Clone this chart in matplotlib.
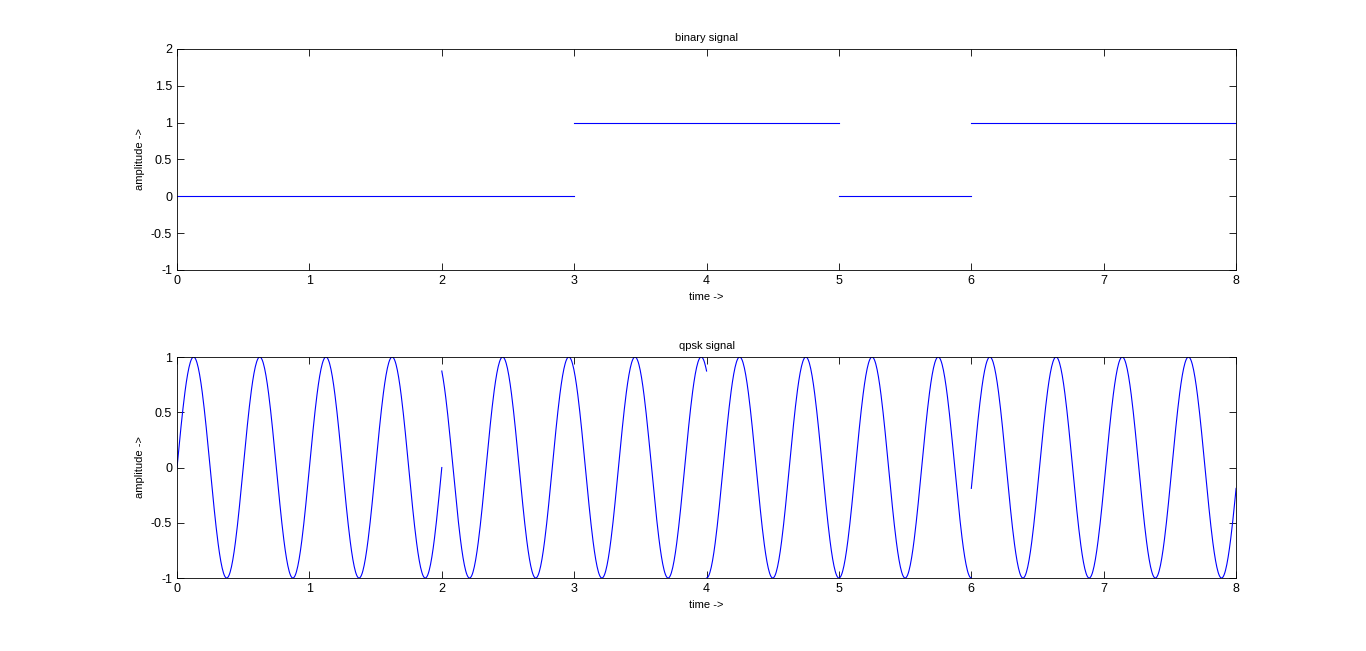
import matplotlib
matplotlib.use('Agg')
import matplotlib.pyplot as plt
import numpy as np

plt.rcParams['font.family'] = ['Liberation Sans', 'DejaVu Sans']
plt.rcParams['font.size'] = 8

# binary data, one bit per time unit
bits = [0, 0, 0, 1, 1, 0, 1, 1]
# qpsk: one symbol per two time units, phase of the carrier (rad)
sym_phases = [0.0, 2.08, -1.57, -0.19]
carrier_freq = 2.0  # cycles per time unit

fig = plt.figure(figsize=(13.66, 6.51), dpi=100)
ax1 = fig.add_axes([0.1296, 0.5853, 0.7753, 0.3395])
ax2 = fig.add_axes([0.1296, 0.1121, 0.7753, 0.3395])

# binary signal, runs of equal bits drawn as one piece
start = 0
for i in range(1, len(bits) + 1):
    if i == len(bits) or bits[i] != bits[start]:
        ax1.plot([start, i], [bits[start], bits[start]], color='blue', linewidth=0.8)
        start = i
ax1.set_xlim(0, 8)
ax1.set_ylim(-1, 2)
ax1.set_yticks([-1, -0.5, 0, 0.5, 1, 1.5, 2])
ax1.set_yticklabels(['-1', '-0.5', '0', '0.5', '1', '1.5', '2'])
ax1.set_title('binary signal', fontsize=8)
ax1.set_xlabel('time ->')
ax1.set_ylabel('amplitude ->')

for k, ph in enumerate(sym_phases):
    t = np.linspace(2 * k, 2 * k + 2, 400)
    ax2.plot(t, np.sin(2 * np.pi * carrier_freq * t + ph), color='blue', linewidth=0.8)
ax2.set_xlim(0, 8)
ax2.set_ylim(-1, 1)
ax2.set_yticks([-1, -0.5, 0, 0.5, 1])
ax2.set_yticklabels(['-1', '-0.5', '0', '0.5', '1'])
ax2.set_title('qpsk signal', fontsize=8)
ax2.set_xlabel('time ->')
ax2.set_ylabel('amplitude ->')

for ax in (ax1, ax2):
    ax.tick_params(direction='in', top=True, right=True, labelsize=9, length=5, width=0.6)
    for s in ax.spines.values():
        s.set_linewidth(0.6)

fig.savefig('out.png', dpi=100)
